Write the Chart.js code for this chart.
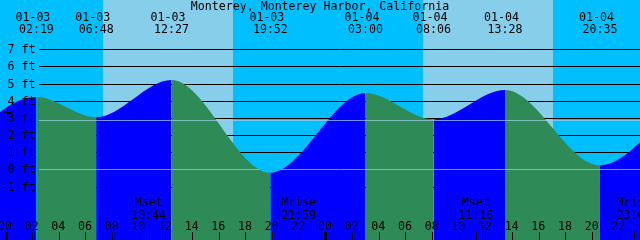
<!DOCTYPE html>
<html>
<head>
<meta charset="utf-8">
<script src="https://cdn.jsdelivr.net/npm/chart.js@4/dist/chart.umd.min.js"></script>
<style>
  html, body { margin: 0; padding: 0; background: #00bfff; }
  canvas { display: block; }
</style>
</head>
<body>
<canvas id="tide" width="640" height="240"></canvas>
<script>
const title = 'Monterey, Monterey Harbor, California';
const days = ['01-02', '01-03', '01-04', '01-05'];   // 01-03 00:00 is hour 0

// high / low tides shown on the graph
const tideDates = ['01-03', '01-03', '01-03', '01-03', '01-04', '01-04', '01-04', '01-04'];
const tideTimes = ['02:19', '06:48', '12:27', '19:52', '03:00', '08:06', '13:28', '20:35'];
const tideLevels = [4.22, 3.04, 5.21, -0.19, 4.45, 2.92, 4.63, 0.24];

// tides just outside the window (estimated from the curve at the edges)
const edgeDates = ['01-02', '01-05'];
const edgeTimes = ['18:24', '03:18'];
const edgeLevels = [-0.2, 4.6];

const sunDates = ['01-03', '01-04'];
const sunrise = ['07:17', '07:17'];
const sunset = ['17:03', '17:02'];

const moonNames = ['Mset', 'Mrise', 'Mset', 'Mrise'];
const moonDates = ['01-03', '01-03', '01-04', '01-04'];
const moonTimes = ['10:44', '21:59', '11:16', '23:08'];

const levelTicks = [-1, 0, 1, 2, 3, 4, 5, 6, 7];
const hourTicks = [0, 2, 4, 6, 8, 10, 12, 14, 16, 18, 20, 22, 24, 26, 28, 30, 32, 34, 36, 38, 40, 42, 44, 46, 48];
const refLines = [0, 2.88];
const marker = { time: 0.09, level: 3.37 };

const NIGHT = '#00bfff', DAY = '#87ceeb', RISE = '#0000ff', FALL = '#2e8b57';
const FONT = '11.6px "DejaVu Sans Mono", "Liberation Mono", monospace';

function hrs(date, time) {
  const [h, m] = time.split(':').map(Number);
  return (days.indexOf(date) - 1) * 24 + h + m / 60;
}

const points = [{ x: hrs(edgeDates[0], edgeTimes[0]), y: edgeLevels[0] }];
tideTimes.forEach((t, i) => points.push({ x: hrs(tideDates[i], t), y: tideLevels[i] }));
points.push({ x: hrs(edgeDates[1], edgeTimes[1]), y: edgeLevels[1] });

const tidePlot = {
  id: 'tidePlot',
  beforeDraw(chart) {
    const { ctx, scales: { x } } = chart;
    ctx.save();
    ctx.fillStyle = NIGHT;
    ctx.fillRect(0, 0, chart.width, chart.height);
    ctx.fillStyle = DAY;
    sunDates.forEach((d, i) => {
      const x0 = Math.round(x.getPixelForValue(hrs(d, sunrise[i])));
      const x1 = Math.round(x.getPixelForValue(hrs(d, sunset[i])));
      ctx.fillRect(x0, 0, x1 - x0, chart.height);
    });
    ctx.restore();
  },
  beforeDatasetsDraw(chart) {
    const { ctx, scales: { y } } = chart;
    ctx.save();
    ctx.strokeStyle = '#000';
    ctx.lineWidth = 1;
    levelTicks.forEach(v => {
      const py = Math.round(y.getPixelForValue(v)) + 0.5;
      ctx.beginPath();
      ctx.moveTo(39, py);
      ctx.lineTo(chart.width, py);
      ctx.stroke();
    });
    ctx.restore();
  },
  afterDatasetsDraw(chart) {
    const { ctx, scales: { x, y } } = chart;
    ctx.save();
    ctx.strokeStyle = 'rgba(160,210,230,0.7)';
    ctx.lineWidth = 1;
    refLines.forEach(v => {
      const py = Math.round(y.getPixelForValue(v)) + 0.5;
      ctx.beginPath();
      ctx.moveTo(39, py);
      ctx.lineTo(chart.width, py);
      ctx.stroke();
    });

    ctx.fillStyle = '#000';
    ctx.font = FONT;
    ctx.textBaseline = 'alphabetic';

    ctx.textAlign = 'center';
    ctx.fillText(title, 320, 10);

    tideTimes.forEach((t, i) => {
      const px = x.getPixelForValue(hrs(tideDates[i], t));
      ctx.fillText(tideDates[i], px - 3.5, 21);
      ctx.fillText(t, px, 33);
    });

    ctx.textAlign = 'right';
    levelTicks.forEach(v => {
      const py = y.getPixelForValue(v);
      ctx.fillText(v + ' ft', 35.5, py + 4);
    });

    ctx.textAlign = 'center';
    moonTimes.forEach((t, i) => {
      const px = x.getPixelForValue(hrs(moonDates[i], t));
      ctx.fillText(moonNames[i], px, 206);
      ctx.fillText(t, px, 218.5);
      ctx.fillRect(Math.round(px), 232, 1, 8);
    });

    hourTicks.forEach(h => {
      const px = x.getPixelForValue(h);
      ctx.fillText(String(h % 24).padStart(2, '0'), px - 0.5, 230);
      if (h % 24 === 0) ctx.fillRect(Math.round(px) - 1, 232, 3, 8);
      else ctx.fillRect(Math.round(px), 232, 1, 8);
    });

    // current level marker
    const mx = Math.round(x.getPixelForValue(marker.time)) + 0.5;
    const my = Math.round(y.getPixelForValue(marker.level)) + 0.5;
    ctx.strokeStyle = '#000';
    ctx.beginPath();
    ctx.moveTo(mx - 4, my); ctx.lineTo(mx + 4, my);
    ctx.moveTo(mx, my - 4); ctx.lineTo(mx, my + 4);
    ctx.stroke();
    ctx.restore();
  }
};

new Chart(document.getElementById('tide'), {
  type: 'line',
  data: {
    datasets: [{
      data: points,
      fill: 'start',
      backgroundColor: RISE,
      borderWidth: 0,
      borderColor: 'transparent',
      pointRadius: 0,
      cubicInterpolationMode: 'monotone',
      segment: {
        backgroundColor: c => c.p1.parsed.y > c.p0.parsed.y ? RISE : FALL
      }
    }]
  },
  options: {
    responsive: false,
    devicePixelRatio: 1,
    animation: false,
    events: [],
    layout: { padding: 0 },
    plugins: { legend: { display: false }, tooltip: { enabled: false } },
    scales: {
      x: { type: 'linear', min: -5.5 / 13.333, max: 634.5 / 13.333, display: false },
      y: { min: -4.11, max: 9.87, display: false }
    }
  },
  plugins: [tidePlot]
});
</script>
</body>
</html>
